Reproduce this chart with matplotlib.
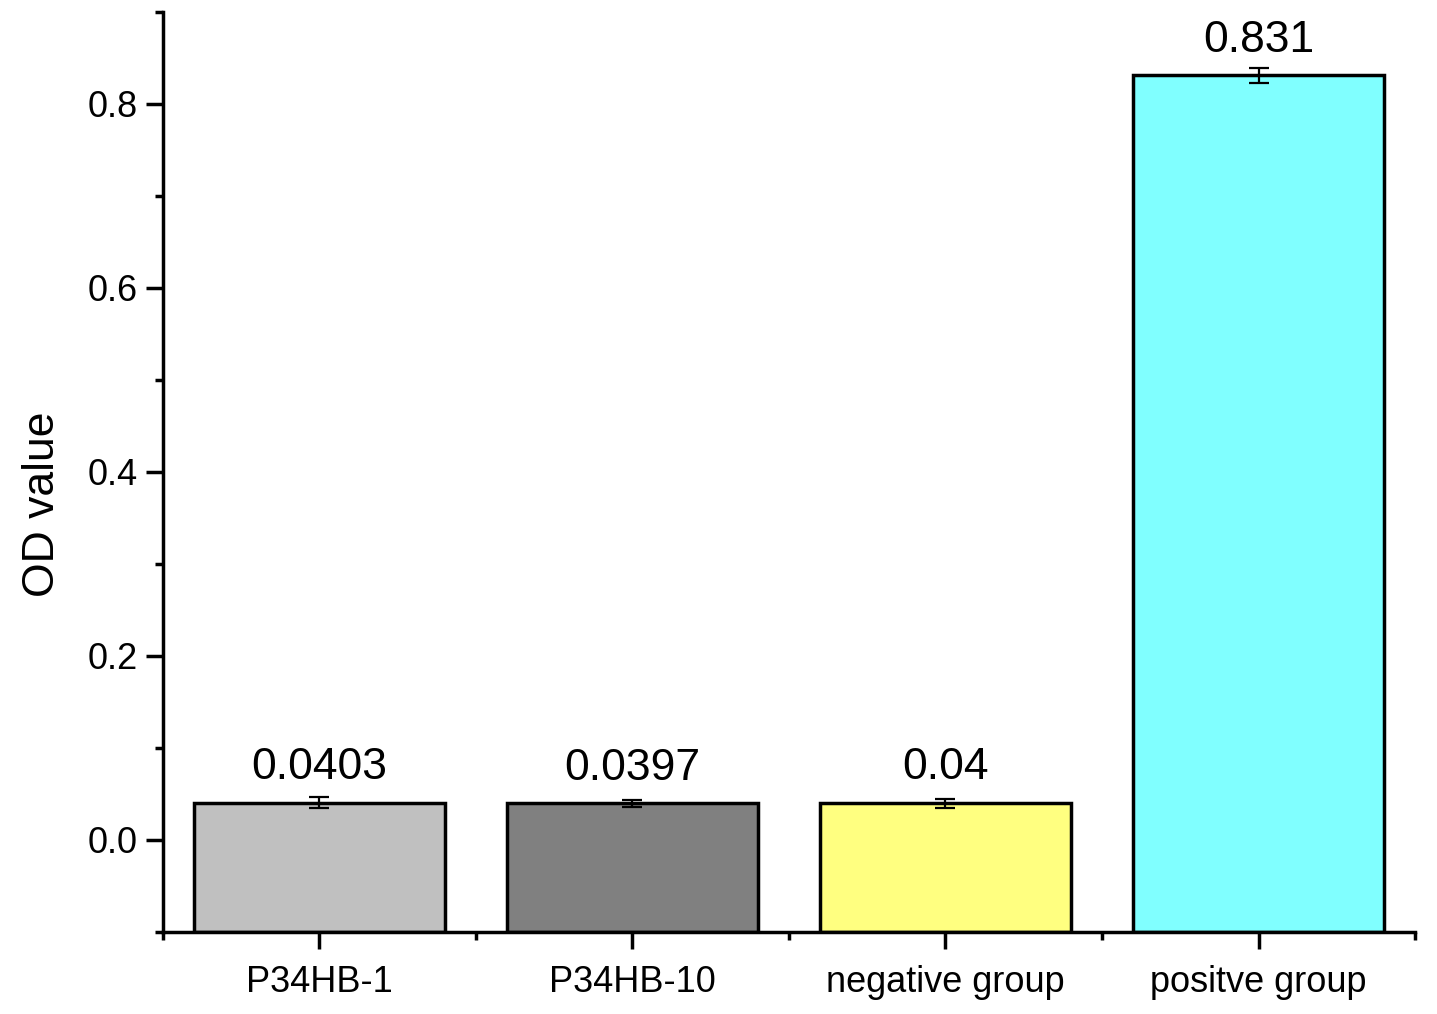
import matplotlib.pyplot as plt
import numpy as np
from matplotlib.ticker import MultipleLocator

plt.rcParams['font.family'] = ['Liberation Sans', 'DejaVu Sans']

groups = ['P34HB-1', 'P34HB-10', 'negative group', 'positve group']
od = [0.0403, 0.0397, 0.04, 0.831]
err = [0.006, 0.004, 0.005, 0.008]
labels = ['0.0403', '0.0397', '0.04', '0.831']
colors = ['#C0C0C0', '#808080', '#FFFF80', '#80FFFF']
base = -0.1

fig = plt.figure(figsize=(14.37, 10.14), dpi=100)
ax = fig.add_axes([0.1134, 0.0809, 0.8713, 0.9073])

x = np.arange(len(groups))
heights = [v - base for v in od]
ax.bar(x, heights, bottom=base, width=0.8, color=colors, edgecolor='black', linewidth=2.5, zorder=2)
ax.errorbar(x, od, yerr=err, fmt='none', ecolor='black', elinewidth=1.6, capsize=7, capthick=1.6, zorder=3)
for xi, v, t in zip(x, od, labels):
    ax.text(xi, v + 0.016, t, ha='center', va='bottom', fontsize=32)

ax.set_xlim(-0.5, 3.5)
ax.set_ylim(-0.1, 0.9)
ax.set_xticks(x)
ax.set_xticklabels(groups)
ax.set_xticks(np.arange(-0.5, 4, 1), minor=True)
ax.yaxis.set_major_locator(MultipleLocator(0.2))
ax.set_yticks(np.arange(-0.1, 0.95, 0.2), minor=True)
ax.yaxis.set_major_formatter(plt.FormatStrFormatter('%.1f'))

for s in ['top', 'right']:
    ax.spines[s].set_visible(False)
for s in ['left', 'bottom']:
    ax.spines[s].set_linewidth(2.5)

ax.tick_params(axis='both', which='major', length=12, width=2.5, labelsize=26, direction='out')
ax.tick_params(axis='both', which='minor', length=6, width=2.5, direction='out')
ax.tick_params(axis='x', which='major', pad=12)
ax.tick_params(axis='y', which='major', pad=6)
ax.set_ylabel('OD value', fontsize=32, labelpad=18, y=0.465)

fig.savefig('out.png', dpi=100)
